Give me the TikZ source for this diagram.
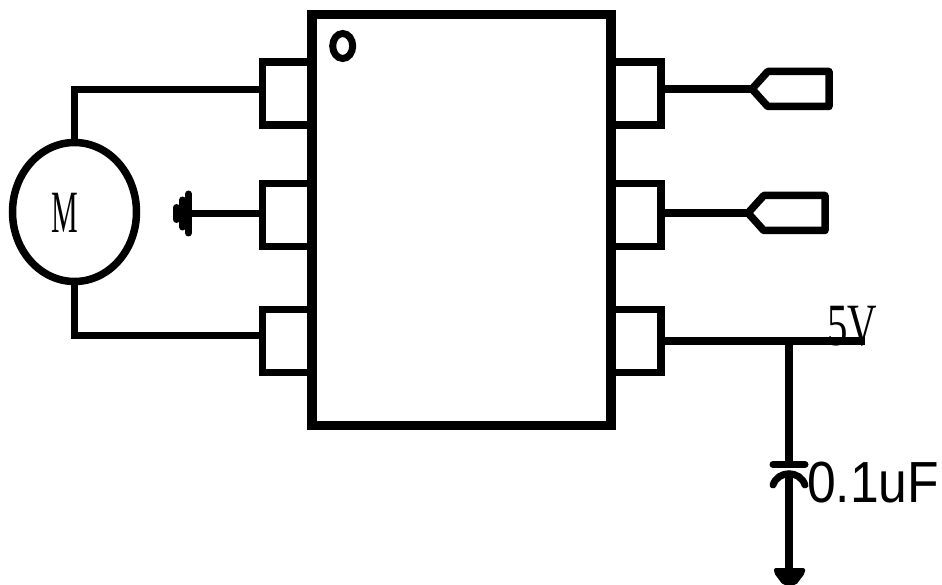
\documentclass[tikz,border=0pt]{standalone}
\usepackage{fontspec}
\setmainfont{Liberation Serif}
\newfontfamily\labelsans{Liberation Sans}
\usetikzlibrary{positioning,calc,shapes.geometric,shapes.symbols}
\tikzset{
	circuit/.style={x=1pt,y=-1pt,line width=7.5pt,line join=miter},
	chipbox/.style={rectangle,draw,line width=9.5pt,minimum width=299pt,minimum height=411pt,inner sep=0pt,outer sep=0pt},
	pad/.style={rectangle,draw,minimum width=50pt,minimum height=63pt,inner sep=0pt,outer sep=0pt},
	motor/.style={ellipse,draw,minimum width=124pt,minimum height=139pt,inner sep=0pt,outer sep=0pt},
	tag/.style={signal,signal to=west,signal pointer angle=96,draw,line join=round,minimum width=77pt,minimum height=35pt,inner sep=0pt,outer sep=0pt},
	dot/.style={ellipse,draw,line width=7pt,minimum width=20pt,minimum height=25pt,inner sep=0pt,outer sep=0pt},
	gndbar/.style={line width=7pt,line cap=round},
	serifval/.style={font=\fontsize{60}{60}\selectfont,inner sep=0pt},
	sansval/.style={font=\labelsans\fontsize{58}{58}\selectfont,inner sep=0pt}
}

\begin{document}
\begin{tikzpicture}[circuit]
\useasboundingbox (0,0) rectangle (942,585);

\node[pad] (l1) at (287.5,93.3) {};
\node[pad] (l2) at (287.5,214.8) {};
\node[pad] (l3) at (287.5,341) {};
\node[pad] (r1) at (636,93.3) {};
\node[pad] (r2) at (636,214.8) {};
\node[pad] (r3) at (636,341) {};

\node[chipbox] (chip) at (461.5,220) {};
\node[dot] (mark) at (342.7,46) {};

\node[motor] (m) at (74.5,212) {};
\node[serifval] (mlabel) at (64.5,213) {\scalebox{.5}[1]{M}};
\coordinate (w1) at (262.5,89.3);
\coordinate (w3) at (262.5,335.3);
\coordinate (gl) at (188.5,213.5);
\node[tag, anchor=west] (t1) at (752,89) {};
\node[tag, anchor=west] (t2) at (748,213) {};

\coordinate (vcc) at (865,341);
\coordinate (cj) at (789,341);
\coordinate (ctop) at (789,464);
\coordinate (cbot) at (789,474);
\coordinate (gb) at (789,571);
\node[serifval] (v) at (852,326) {\scalebox{.68}[1]{5V}};
\node[sansval] (c) at (873,483) {\scalebox{.89}[1]{0.1uF}};

\draw (m.north) |- (w1);
\draw (m.south) |- (w3);
\draw (l2.west |- gl) -- (gl);
\draw (r1.east |- t1.west) -- (t1.west);
\draw (r2.east |- t2.west) -- (t2.west);
\draw (r3.east |- vcc) -- (vcc);
\draw (cj) -- (ctop);
\draw (cbot) -- (gb);

% ground at the left
\draw[gndbar] ([yshift=19.5pt]gl) -- ([yshift=-19.5pt]gl);
\draw[gndbar] ([xshift=-6pt,yshift=13.5pt]gl) -- ([xshift=-6pt,yshift=-13.5pt]gl);
\draw[gndbar] ([xshift=-12pt,yshift=6pt]gl) -- ([xshift=-12pt,yshift=-6pt]gl);

% capacitor plates
\draw[gndbar] (773,464.5) -- (805,464.5);
\draw[gndbar] (773,485) .. controls (778,470) and (800,470) .. (805,485);

% ground at the bottom
\fill[rounded corners=2pt] (774,568) -- (805,568) -- (805,573) -- (796,585) -- (783,585) -- (774,573) -- cycle;
\end{tikzpicture}
\end{document}
